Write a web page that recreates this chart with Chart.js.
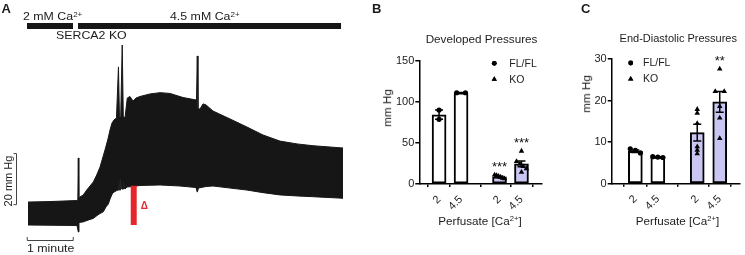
<!DOCTYPE html>
<html>
<head>
<meta charset="utf-8">
<script src="https://cdn.jsdelivr.net/npm/chart.js@4.4.0/dist/chart.umd.min.js"></script>
<style>
    body { margin: 0; width: 745px; height: 255px; position: relative; overflow: hidden; background: #fff;
           font-family: "Liberation Sans", Arial, sans-serif; color: #1c1c1c; }
    canvas, .t { position: absolute; }
    .t { white-space: nowrap; line-height: 1; }
    .a { font-size: 10.3px; transform: scaleX(1.2); transform-origin: 0 0; }
    .lt { font-size: 13px; font-weight: bold; top: 1.6px; }
    .ttl { font-size: 11.7px; transform: translateX(-50%); }
    .rot { transform: translate(-50%, -50%) rotate(-90deg); }
    sup { font-size: 0.65em; line-height: 0; vertical-align: 0.5em; }
</style>
</head>
<body>
<canvas id="trace" width="360" height="255" style="left:0;top:0"></canvas>
<canvas id="devP" width="180" height="165" style="left:380px;top:50px"></canvas>
<canvas id="edP" width="195" height="165" style="left:560px;top:50px"></canvas>

<div class="t lt" style="left:1.5px">A</div>
<div class="t lt" style="left:372px">B</div>
<div class="t lt" style="left:581px">C</div>

<div class="t a" style="left:22.7px;top:12px">2 mM Ca<sup>2+</sup></div>
<div class="t a" style="left:170px;top:12px">4.5 mM Ca<sup>2+</sup></div>
<div class="t a" style="left:56px;top:31.3px">SERCA2 KO</div>
<div class="t a" style="left:27px;top:243.7px">1 minute</div>
<div class="t rot" style="left:7.5px;top:181px;font-size:11px">20 mm Hg</div>

<div class="t ttl" style="left:481.5px;top:32.8px">Developed Pressures</div>
<div class="t ttl" style="left:678.3px;top:33.4px;font-size:11px">End-Diastolic Pressures</div>
<div class="t ttl" style="left:480px;top:215.2px">Perfusate [Ca<sup>2+</sup>]</div>
<div class="t ttl" style="left:677.5px;top:215.2px">Perfusate [Ca<sup>2+</sup>]</div>
<div class="t rot" style="left:387px;top:107.5px;font-size:11.7px">mm Hg</div>
<div class="t rot" style="left:586px;top:94px;font-size:11.7px">mm Hg</div>

<script>
const FONT = '"Liberation Sans", Arial, sans-serif';

// Panel A: LV pressure trace envelope (time in s, pressure in mm Hg)
const sysTime = [0, 28.7, 63.9, 65.0, 65.6, 66.3, 67.8, 72.1, 76.6, 80.9, 85.2, 89.6, 93.9, 100.4, 104.3,
    107.0, 109.6, 112.2, 115.4, 118.0, 119.3, 120.9, 122.9, 124.3, 126.5, 129.5, 133.0, 137.0, 140.9,
    146.1, 159.1, 172.2, 185.2, 202.2, 219.8, 220.8, 221.7, 224.3, 228.3, 232.2, 241.3, 263.5, 285.7,
    306.5, 328.7, 350.9, 371.7, 410.9];
const sysP = [17.0, 17.2, 17.6, 17.8, 34.3, 18.2, 19.0, 19.8, 21.7, 23.3, 24.9, 27.6, 30.7, 37.4, 41.7,
    45.3, 48.0, 49.2, 50.0, 70.0, 50.4, 50.4, 78.6, 50.7, 50.0, 57.8, 58.4, 56.6, 57.8,
    58.4, 59.4, 59.9, 59.6, 58.0, 57.0, 74.3, 53.5, 53.5, 55.5, 55.1, 52.7, 49.6, 46.4,
    43.3, 40.9, 39.8, 39.1, 38.2];
const diaTime = [0, 63.9, 65.6, 66.5, 71.7, 80.9, 85.2, 90.0, 93.9, 98.2, 101.7, 104.7, 107.0, 109.2,
    110.9, 115.7, 117.4, 118.3, 119.2, 120.7, 121.6, 122.6, 124.6, 125.5, 126.5, 129.1, 133.0, 146.1,
    172.2, 198.3, 219.1, 220.8, 222.4, 232.2, 241.3, 263.5, 285.7, 306.5, 328.7, 350.9, 371.7, 410.9];
const diaP = [8.0, 7.8, 5.3, 9.0, 9.2, 10.2, 10.6, 11.7, 12.5, 13.2, 15.1, 16.2, 18.2, 19.8,
    20.7, 21.5, 21.7, 28.0, 21.7, 21.7, 29.2, 22.1, 22.1, 26.8, 22.1, 22.9, 23.0, 23.5,
    23.7, 23.3, 22.7, 20.9, 22.5, 23.1, 23.3, 22.5, 21.7, 20.7, 19.8, 19.4, 19.1, 18.5];
const perfStart = [-1.3, 65.2];
const perfEnd = [58.7, 408.3];
const deltaTime = [134.0, 141.8];
const deltaP = [8.0, 23.4];
const scaleBarP = [16, 36];      // 20 mm Hg
const scaleBarTime = [-1, 59];   // 1 minute

// Panels B and C: bar positions / labels
const barPos = [1, 2, 3.75, 4.75];
const xLabels = ['2', '4.5', '2', '4.5'];
const barFill = ['#ffffff', '#ffffff', '#c9c7f2', '#c9c7f2'];

// B: developed pressure
const devMean = [84.5, 111.3, 8.8, 24.5];
const devSem = [5.6, 0.4, 0.8, 3.6];
const devFL = [[90.2, 78.9], [111.3, 111.3]];
const devKO = [[11.0, 10.5, 9.5, 8.5, 7.0, 6.5], [40.2, 27.5, 24.5, 21.5, 18.8, 14.5]];
const devStars = ['', '', '***', '***'];

// C: end-diastolic pressure
const edpMean = [7.8, 6.4, 12.3, 19.7];
const edpSem = [0.3, 0.1, 2.0, 2.5];
const edpFL = [[7.4, 8.0, 8.4], [6.3, 6.4, 6.5]];
const edpKO = [[17.9, 17.0, 14.5, 8.9, 8.1, 7.2], [27.6, 22.2, 22.2, 18.6, 15.8, 10.9]];
const edpStars = ['', '', '', '**'];

// spread overlapping points sideways like a scatter-dot plot
function spread(groups, start, near) {
    const out = [];
    groups.forEach((vals, g) => {
        const sorted = vals.slice().sort((a, b) => b - a);
        let cluster = [];
        const flush = () => {
            const k = cluster.length;
            const step = k > 1 ? Math.min(0.4, 0.45 / (k - 1)) : 0;
            cluster.forEach((v, j) => out.push({ x: barPos[start + g] + (j - (k - 1) / 2) * step, y: v }));
            cluster = [];
        };
        sorted.forEach(v => {
            if (cluster.length && cluster[cluster.length - 1] - v >= near) flush();
            cluster.push(v);
        });
        flush();
    });
    return out;
}

// Panel A
const traceMarks = {
    id: 'traceMarks',
    afterDatasetsDraw(chart) {
        const { ctx, scales: { x, y } } = chart;
        ctx.save();
        ctx.fillStyle = '#161616';
        perfStart.forEach((s, i) => {
            const x0 = x.getPixelForValue(s), x1 = x.getPixelForValue(perfEnd[i]);
            ctx.fillRect(x0, 23, x1 - x0, 6);
        });
        // delta bar
        const dx0 = x.getPixelForValue(deltaTime[0]), dx1 = x.getPixelForValue(deltaTime[1]);
        const dy0 = y.getPixelForValue(deltaP[0]), dy1 = y.getPixelForValue(deltaP[1]);
        ctx.fillStyle = '#e5262b';
        ctx.fillRect(dx0, dy1, dx1 - dx0, dy0 - dy1);
        ctx.font = 'bold 10px ' + FONT;
        ctx.textBaseline = 'middle';
        ctx.fillText('Δ', dx1 + 4, (dy0 + dy1) / 2 + 1);
        // scale bars
        ctx.strokeStyle = '#444';
        ctx.lineWidth = 1;
        const sx = Math.round(x.getPixelForValue(-15.7)) + 0.5;
        const sy0 = y.getPixelForValue(scaleBarP[0]), sy1 = y.getPixelForValue(scaleBarP[1]);
        ctx.beginPath();
        ctx.moveTo(sx - 3, sy0); ctx.lineTo(sx, sy0); ctx.lineTo(sx, sy1); ctx.lineTo(sx - 3, sy1);
        ctx.stroke();
        const hx0 = x.getPixelForValue(scaleBarTime[0]), hx1 = x.getPixelForValue(scaleBarTime[1]);
        ctx.beginPath();
        ctx.moveTo(hx0, 237); ctx.lineTo(hx0, 240.5); ctx.lineTo(hx1, 240.5); ctx.lineTo(hx1, 237);
        ctx.stroke();
        ctx.restore();
    }
};

new Chart(document.getElementById('trace'), {
    type: 'scatter',
    data: {
        datasets: [
            { data: sysTime.map((t, i) => ({ x: t, y: sysP[i] })), showLine: true, fill: false,
              borderColor: '#161616', borderWidth: 1, pointRadius: 0, tension: 0 },
            { data: diaTime.map((t, i) => ({ x: t, y: diaP[i] })), showLine: true, fill: '-1',
              borderColor: '#161616', backgroundColor: '#161616', borderWidth: 1, pointRadius: 0, tension: 0 }
        ]
    },
    options: {
        responsive: false, animation: false, devicePixelRatio: 1,
        layout: { padding: 0 },
        plugins: { legend: { display: false }, tooltip: { enabled: false } },
        scales: {
            x: { type: 'linear', display: false, min: -36.52, max: 433.04 },
            y: { type: 'linear', display: false, min: -3.76, max: 96.24 }
        }
    },
    plugins: [traceMarks]
});

// Panels B and C
function barPanel(id, o) {
    const marks = {
        id: 'marks',
        afterDatasetsDraw(chart) {
            const { ctx, scales: { x, y } } = chart;
            ctx.save();
            ctx.strokeStyle = '#000';
            ctx.fillStyle = '#111';
            ctx.lineWidth = 1.5;
            o.means.forEach((m, i) => {
                const px = x.getPixelForValue(barPos[i]);
                const t = y.getPixelForValue(m + o.sems[i]), b = y.getPixelForValue(m - o.sems[i]);
                ctx.beginPath();
                ctx.moveTo(px, t); ctx.lineTo(px, b);
                ctx.moveTo(px - 4, t); ctx.lineTo(px + 4, t);
                ctx.moveTo(px - 4, b); ctx.lineTo(px + 4, b);
                ctx.stroke();
                if (o.stars[i]) {
                    const pts = (i < 2 ? o.fl[i] : o.ko[i - 2]).concat([m + o.sems[i]]);
                    const top = y.getPixelForValue(Math.max(...pts));
                    ctx.font = '13px ' + FONT;
                    ctx.textAlign = 'center';
                    ctx.textBaseline = 'alphabetic';
                    ctx.fillText(o.stars[i], px, top - 10.5 + 6.8);
                }
            });
            // legend
            ctx.font = '10.5px ' + FONT;
            ctx.textAlign = 'left';
            ctx.textBaseline = 'middle';
            ctx.fillStyle = '#000';
            Chart.helpers.drawPoint(ctx, { pointStyle: 'circle', radius: 2.4, borderWidth: 0 }, o.legX, o.legY);
            ctx.fill();
            Chart.helpers.drawPoint(ctx, { pointStyle: 'triangle', radius: 3, borderWidth: 0 }, o.legX, o.legY + 16);
            ctx.fill();
            ctx.fillStyle = '#222';
            ctx.fillText('FL/FL', o.legTextX, o.legY + 0.5);
            ctx.fillText('KO', o.legTextX, o.legY + 16.5);
            ctx.restore();
        }
    };

    const axisGrid = len => ({ display: true, drawOnChartArea: false, drawTicks: true, tickLength: len,
        color: '#000', lineWidth: 1.5 });
    const axisBorder = { display: true, color: '#000', width: 1.5 };
    const tickFont = { family: FONT, size: 11 };

    new Chart(document.getElementById(id), {
        type: 'bar',
        data: {
            datasets: [
                { type: 'bar', data: o.means.map((m, i) => ({ x: barPos[i], y: m })), backgroundColor: barFill,
                  borderColor: '#000', borderWidth: 2, borderSkipped: false, barThickness: 14, order: 3 },
                { type: 'scatter', data: spread(o.fl, 0, o.near), pointStyle: 'circle', pointRadius: 2.6,
                  backgroundColor: '#000', borderWidth: 0, order: 1 },
                { type: 'scatter', data: spread(o.ko, 2, o.near), pointStyle: 'triangle', pointRadius: 3.2,
                  backgroundColor: '#000', borderWidth: 0, order: 1 }
            ]
        },
        options: {
            responsive: false, animation: false, devicePixelRatio: 1,
            layout: { padding: { top: o.padTop, right: o.padRight, left: 0, bottom: 0 } },
            plugins: { legend: { display: false }, tooltip: { enabled: false } },
            scales: {
                x: {
                    type: 'linear', min: o.xMin, max: o.xMax, offset: false,
                    afterBuildTicks: s => { s.ticks = barPos.map(v => ({ value: v })); },
                    afterFit: s => { s.height = o.xAxisH; },
                    grid: axisGrid(3), border: axisBorder,
                    ticks: { autoSkip: false, minRotation: 45, maxRotation: 45, padding: 6, color: '#222',
                             font: tickFont, callback: (v, i) => xLabels[i] }
                },
                y: {
                    type: 'linear', min: 0, max: o.yMax,
                    afterFit: s => { s.width = o.yAxisW; },
                    grid: axisGrid(4), border: axisBorder,
                    ticks: { stepSize: o.yStep, padding: 1, color: '#222', font: tickFont }
                }
            }
        },
        plugins: [marks]
    });
}

barPanel('devP', {
    means: devMean, sems: devSem, fl: devFL, ko: devKO, stars: devStars, near: 3.66,
    yMax: 150, yStep: 50, xMin: 0.1, xMax: 5.67,
    padTop: 11, padRight: 18.3, xAxisH: 31, yAxisW: 39.3,
    legX: 114.3, legY: 13.3, legTextX: 129.3
});

barPanel('edP', {
    means: edpMean, sems: edpSem, fl: edpFL, ko: edpKO, stars: edpStars, near: 0.72,
    yMax: 30, yStep: 10, xMin: -0.05, xMax: 5.65,
    padTop: 9, padRight: 15, xAxisH: 31.3, yAxisW: 51.7,
    legX: 70.7, legY: 13, legTextX: 83
});
</script>
</body>
</html>
